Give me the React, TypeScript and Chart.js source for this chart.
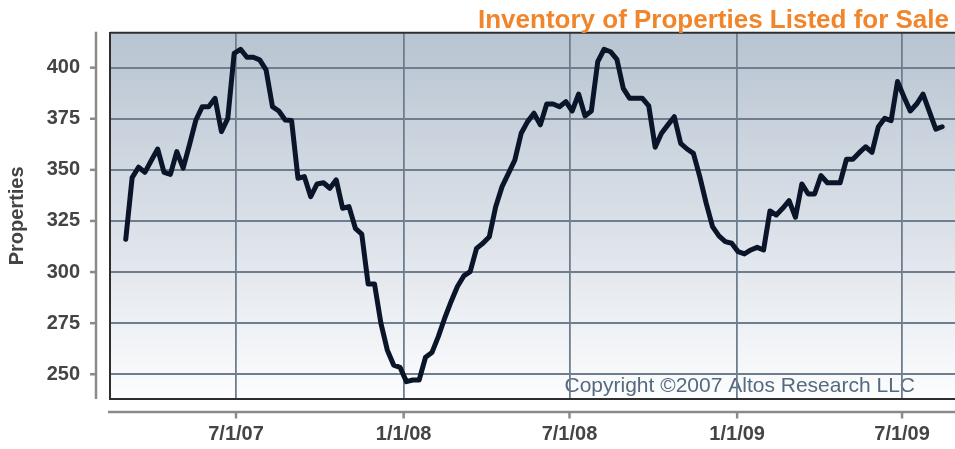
import React, { useEffect, useRef } from 'react';
import { Chart, registerables } from 'chart.js';

Chart.register(...registerables);

const FONT = "'Liberation Sans', Arial, Helvetica, sans-serif";

const chartTitle = 'Inventory of Properties Listed for Sale';
const yAxisTitle = 'Properties';
const copyrightText = 'Copyright ©2007 Altos Research LLC';

// weekly observations, first one on this date
const firstWeek = '2007-03-02';
const inventory = [
  316.0, 346.2, 351.3, 348.8, 354.6, 360.2, 348.8, 347.8, 358.9, 350.8,
  362.4, 374.4, 380.9, 380.9, 385.0, 368.7, 375.2, 407.0, 409.0, 405.1,
  405.1, 403.8, 398.9, 380.9, 378.8, 374.4, 374.1, 345.9, 346.7, 336.9,
  343.1, 343.7, 341.0, 345.1, 331.2, 332.0, 321.4, 318.6, 294.2, 294.2,
  275.0, 261.9, 254.5, 253.4, 246.4, 247.2, 247.2, 258.3, 260.6, 268.4,
  277.4, 285.5, 292.9, 298.1, 300.2, 311.6, 314.1, 317.3, 332.0, 341.8,
  348.3, 354.8, 367.9, 373.6, 377.7, 372.0, 382.2, 382.2, 380.9, 383.4,
  378.8, 387.1, 376.4, 378.8, 402.9, 409.0, 407.8, 404.1, 389.9, 385.0,
  385.0, 385.0, 381.3, 361.1, 367.9, 372.0, 376.0, 363.0, 360.2, 358.1,
  346.7, 333.7, 322.2, 317.7, 314.9, 314.1, 310.0, 308.9, 310.8, 312.1,
  310.8, 329.9, 327.9, 331.2, 334.9, 326.8, 343.1, 338.2, 338.2, 347.2,
  343.7, 343.7, 343.7, 355.2, 355.2, 358.4, 361.3, 358.6, 371.1, 375.2,
  374.1, 393.2, 385.8, 378.8, 382.2, 387.1, 378.5, 369.9, 371.1,
];

const yTicks = [250, 275, 300, 325, 350, 375, 400];
const originDate = '2007-07-01';
const xTickDates = ['2007-07-01', '2008-01-01', '2008-07-01', '2009-01-01', '2009-07-01'];
const xTickLabels = ['7/1/07', '1/1/08', '7/1/08', '1/1/09', '7/1/09'];
const xMinDays = -138.3;
const xMaxDays = 789.1;
const yMin = 237.9;
const yMax = 417.1;

const dayOf = (s: string) => (Date.parse(s) - Date.parse(originDate)) / 86400000;

const decorPlugin = {
  id: 'decor',
  beforeDraw(chart: any) {
    const { ctx, chartArea } = chart;
    const { left, top, right, bottom } = chartArea;
    ctx.save();
    const g = ctx.createLinearGradient(0, top, 0, bottom);
    g.addColorStop(0, '#b8c4d1');
    g.addColorStop(0.5, '#d9dfe7');
    g.addColorStop(1, '#fcfdfe');
    ctx.fillStyle = g;
    ctx.fillRect(left, top, right - left, bottom - top);
    ctx.font = `21px ${FONT}`;
    ctx.fillStyle = '#56697f';
    ctx.textAlign = 'right';
    ctx.textBaseline = 'alphabetic';
    ctx.fillText(copyrightText, 915, 392);
    ctx.restore();
  },
  afterDraw(chart: any) {
    const { ctx, chartArea, scales } = chart;
    const { left, top, right, bottom } = chartArea;
    ctx.save();
    // top border
    ctx.strokeStyle = '#2e2e2e';
    ctx.lineWidth = 2;
    ctx.beginPath();
    ctx.moveTo(left, top);
    ctx.lineTo(right, top);
    ctx.stroke();
    // detached axes
    ctx.strokeStyle = '#8a8a8a';
    ctx.lineWidth = 2.5;
    ctx.beginPath();
    ctx.moveTo(96, top - 1);
    ctx.lineTo(96, bottom);
    ctx.stroke();
    yTicks.forEach((v) => {
      const y = scales.y.getPixelForValue(v);
      ctx.beginPath();
      ctx.moveTo(90, y);
      ctx.lineTo(96, y);
      ctx.stroke();
    });
    ctx.beginPath();
    ctx.moveTo(108, 412);
    ctx.lineTo(right, 412);
    ctx.stroke();
    xTickDates.forEach((d) => {
      const x = scales.x.getPixelForValue(dayOf(d));
      ctx.beginPath();
      ctx.moveTo(x, 412);
      ctx.lineTo(x, 418.5);
      ctx.stroke();
    });
    // title
    ctx.font = `bold 26px ${FONT}`;
    ctx.fillStyle = '#f0852b';
    ctx.textAlign = 'right';
    ctx.textBaseline = 'alphabetic';
    ctx.fillText(chartTitle, 949, 28);
    ctx.restore();
  },
};

export default function App() {
  const ref = useRef<HTMLCanvasElement>(null);
  useEffect(() => {
    if (!ref.current) return;
    const start = dayOf(firstWeek);
    const points = inventory.map((v, i) => ({ x: start + 7 * i, y: v }));
    const xTickDays = xTickDates.map(dayOf);
    const chart = new Chart(ref.current, {
      type: 'line',
      data: {
        datasets: [
          {
            data: points,
            borderColor: '#0a1529',
            borderWidth: 5,
            pointRadius: 0,
            tension: 0,
            borderJoinStyle: 'round',
            borderCapStyle: 'round',
            fill: false,
          },
        ],
      },
      options: {
        responsive: false,
        animation: false,
        events: [],
        layout: { padding: { top: 32.7, left: 0, right: 0, bottom: 0 } },
        plugins: { legend: { display: false }, tooltip: { enabled: false }, title: { display: false } },
        scales: {
          x: {
            type: 'linear',
            min: xMinDays,
            max: xMaxDays,
            afterBuildTicks: (s: any) => {
              s.ticks = xTickDays.map((v) => ({ value: v }));
            },
            afterFit: (s: any) => {
              s.height = 50;
              s.paddingLeft = 0;
              s.paddingRight = 0;
            },
            ticks: {
              autoSkip: false,
              maxRotation: 0,
              padding: 23,
              color: '#444444',
              font: { family: FONT, size: 20, weight: 'bold' },
              callback: (v: any) => {
                const i = xTickDays.findIndex((d) => Math.abs(d - v) < 0.5);
                return i >= 0 ? xTickLabels[i] : '';
              },
            },
            grid: { color: '#6f7e8e', lineWidth: 1.8, drawTicks: false },
            border: { display: true, color: '#2e2e2e', width: 2 },
          },
          y: {
            min: yMin,
            max: yMax,
            afterBuildTicks: (s: any) => {
              s.ticks = yTicks.map((v) => ({ value: v }));
            },
            afterFit: (s: any) => {
              s.width = 110;
              s.paddingTop = 0;
              s.paddingBottom = 0;
            },
            ticks: {
              padding: 30,
              color: '#444444',
              font: { family: FONT, size: 20, weight: 'bold' },
            },
            grid: { color: '#6f7e8e', lineWidth: 2, drawTicks: false },
            border: { display: true, color: '#2e2e2e', width: 2 },
            title: {
              display: true,
              text: yAxisTitle,
              color: '#444444',
              font: { family: FONT, size: 20, weight: 'bold' },
              padding: { top: 5, bottom: 0 },
            },
          },
        },
      },
      plugins: [decorPlugin],
    } as any);
    return () => chart.destroy();
  }, []);
  return (
    <div style={{ position: 'absolute', left: 0, top: 0, width: 955, height: 449 }}>
      <canvas ref={ref} width={955} height={449} style={{ width: 955, height: 449 }} />
    </div>
  );
}
